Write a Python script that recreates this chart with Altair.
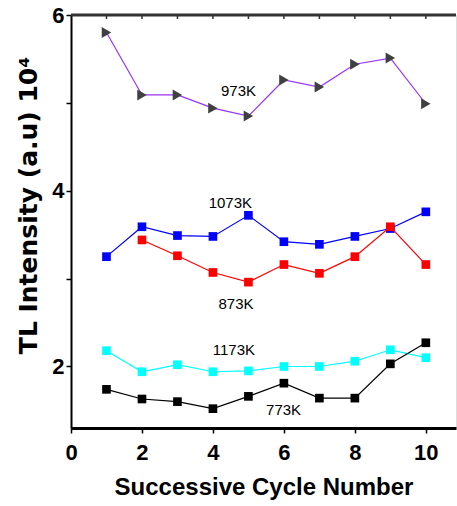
import altair as alt
import pandas as pd

cycles = [1, 2, 3, 4, 5, 6, 7, 8, 9, 10]
s973 = [5.80, 5.09, 5.09, 4.94, 4.85, 5.26, 5.18, 5.44, 5.51, 4.99]
s1073 = [3.25, 3.59, 3.49, 3.48, 3.72, 3.42, 3.39, 3.48, 3.57, 3.76]
s873 = [None, 3.44, 3.26, 3.07, 2.96, 3.16, 3.06, 3.25, 3.59, 3.16]
s1173 = [2.18, 1.94, 2.02, 1.94, 1.95, 2.00, 2.00, 2.06, 2.19, 2.10]
s773 = [1.74, 1.63, 1.60, 1.52, 1.66, 1.81, 1.64, 1.64, 2.03, 2.27]

label_text = ["973K", "1073K", "873K", "1173K", "773K"]
label_x = [4.72, 4.49, 4.65, 4.59, 5.99]
label_y = [5.14, 3.86, 2.71, 2.19, 1.50]

x_ticks = [0, 1, 2, 3, 4, 5, 6, 7, 8, 9, 10]
y_ticks = [2, 3, 4, 5, 6]
top_ticks = [1, 2, 3, 4, 5, 6, 7, 8, 9, 10]

series = [
    ("973K", s973, "#9933ff", "#404040", "triangle-right", 120),
    ("1073K", s1073, "#0000ff", "#0000ff", "square", 75),
    ("873K", s873, "#ff0000", "#ff0000", "square", 75),
    ("1173K", s1173, "#00ffff", "#00ffff", "square", 75),
    ("773K", s773, "#000000", "#000000", "square", 75),
]

X_MIN, X_MAX = 0, 10.85
xs = alt.Scale(domain=[X_MIN, X_MAX], nice=False, zero=False)
ys = alt.Scale(domain=[1.3, 6], nice=False, zero=False)

FONT = "Liberation Sans"

xaxis = alt.Axis(
    values=x_ticks, format="d",
    labelExpr="datum.value % 2 == 0 ? datum.label : ''",
    title="Successive Cycle Number",
    titleFont=FONT, titleFontSize=24, titleFontWeight="bold", titleColor="black",
    titlePadding=12,
    labelFont=FONT, labelFontSize=22, labelFontWeight="bold", labelColor="black",
    labelPadding=9, labelFlush=False,
    tickSize=5, tickColor="black", tickWidth=1.5,
    domainColor="black", domainWidth=3, grid=False,
)
yaxis = alt.Axis(
    values=y_ticks, format="d",
    labelExpr="datum.value % 2 == 0 ? datum.label : ''",
    title="TL Intensity (a.u) 10\u2074",
    titleFont="DejaVu Sans", titleFontSize=25, titleFontWeight="bold", titleColor="black",
    titlePadding=10, titleY=190,
    labelFont=FONT, labelFontSize=22, labelFontWeight="bold", labelColor="black",
    labelPadding=2, labelBaseline="middle", labelFlush=False,
    tickSize=5, tickColor="black", tickWidth=1.5,
    domainColor="black", domainWidth=2, grid=False,
)

layers = []
first = True
for name, vals, lc, pc, shape, size in series:
    df = pd.DataFrame({"cycle": cycles, "value": vals}).dropna()
    if first:
        xenc = alt.X("cycle:Q", scale=xs, axis=xaxis)
        yenc = alt.Y("value:Q", scale=ys, axis=yaxis)
    else:
        xenc = alt.X("cycle:Q", scale=xs)
        yenc = alt.Y("value:Q", scale=ys)
    base = alt.Chart(df)
    layers.append(base.mark_line(color=lc, strokeWidth=1.2).encode(x=xenc, y=yenc))
    layers.append(
        base.mark_point(shape=shape, filled=True, color=pc, size=size, opacity=1)
        .encode(x=alt.X("cycle:Q", scale=xs), y=alt.Y("value:Q", scale=ys))
    )
    first = False

lab_df = pd.DataFrame({"t": label_text, "x": label_x, "y": label_y})
labels = alt.Chart(lab_df).mark_text(
    font=FONT, fontSize=15, color="black", align="center", baseline="middle"
).encode(
    x=alt.X("x:Q", scale=xs),
    y=alt.Y("y:Q", scale=ys),
    text="t:N",
)

top_line = alt.Chart(pd.DataFrame({"a": [X_MIN], "b": [X_MAX]})).mark_rule(
    color="#333333", strokeWidth=3
).encode(
    x=alt.X("a:Q", scale=xs),
    x2="b:Q",
    y=alt.value(0),
)

top_df = pd.DataFrame({"c": top_ticks})
top_tick_marks = alt.Chart(top_df).mark_rule(color="#333333", strokeWidth=1.5).encode(
    x=alt.X("c:Q", scale=xs),
    y=alt.value(0),
    y2=alt.value(4),
)

chart = alt.layer(*layers, labels, top_line, top_tick_marks).properties(
    width=385, height=413,
    padding={"left": 71, "top": 15, "right": 1, "bottom": 78},
    autosize=alt.AutoSizeParams(type="none"),
).configure_view(stroke=None).configure(background="white")

chart.save("out.html", embed_options={"renderer": "svg", "actions": False})
